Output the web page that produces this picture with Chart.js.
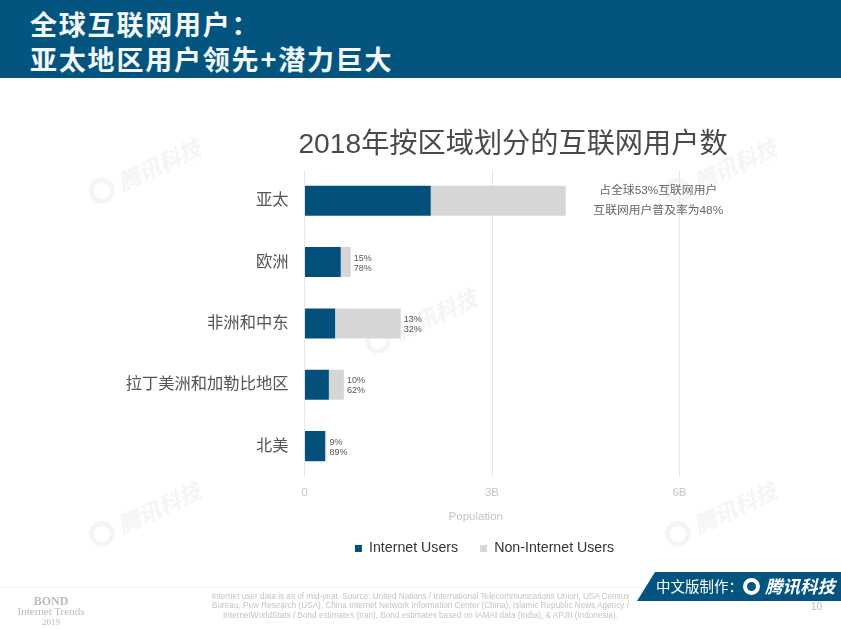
<!DOCTYPE html>
<html>
<head>
<meta charset="utf-8">
<script src="https://cdn.jsdelivr.net/npm/chart.js@4/dist/chart.umd.min.js"></script>
<style>
	html, body { margin: 0; padding: 0; background: #fff; }
	body { width: 841px; height: 629px; overflow: hidden; position: relative; font-family: "Liberation Sans", "Noto Sans CJK SC", sans-serif; }
	canvas { position: absolute; left: 0; top: 0; }
	.abs { position: absolute; white-space: nowrap; }
	#header { left: 0; top: 0; width: 841px; height: 78px; background: #03557f; }
	.head { left: 30px; color: #f4f8fa; font: bold 27px/32px "Noto Sans CJK SC", sans-serif; letter-spacing: 1.8px; }
	.mark { color: #f5f5f5; font: italic bold 22px/30px "Noto Sans CJK SC", sans-serif; transform: rotate(-25deg); }
	.mark i { display: inline-block; width: 16px; height: 16px; border: 5px solid #f5f5f5; border-radius: 50%; margin-right: 6px; vertical-align: -4px; }
	#rule { left: 0; top: 587px; width: 640px; height: 1px; background: #f0f0f0; }
	#source { left: 190px; top: 592px; width: 461px; text-align: center; color: #c4c4c4; font-size: 8.2px; line-height: 9.3px; }
	.bond { left: 0; width: 102px; text-align: center; color: #bcbcbc; font-family: "Liberation Serif", serif; }
	#badge { left: 637px; top: 572px; width: 204px; height: 29px; background: #03557f; clip-path: polygon(18px 0, 100% 0, 100% 100%, 0 100%); }
	#badgeText { left: 656px; top: 575px; color: #fff; font: 14.5px/22px "Noto Sans CJK SC", sans-serif; }
	#badgeLogo { left: 743px; top: 578px; width: 9px; height: 9px; border: 4px solid #fff; border-radius: 50%; }
	#badgeName { left: 765px; top: 574px; color: #fff; font: italic bold 17.5px/24px "Noto Sans CJK SC", sans-serif; }
	#page { left: 811px; top: 601px; color: #bbb; font-size: 10px; }
</style>
</head>
<body>
<div class="abs" id="header"></div>
<div class="abs head" style="top:8px">全球互联网用户：</div>
<div class="abs head" style="top:43px">亚太地区用户领先+潜力巨大</div>

<div class="abs mark" style="left:84px;top:155px"><i></i>腾讯科技</div>
<div class="abs mark" style="left:660px;top:155px"><i></i>腾讯科技</div>
<div class="abs mark" style="left:360px;top:305px"><i></i>腾讯科技</div>
<div class="abs mark" style="left:84px;top:498px"><i></i>腾讯科技</div>
<div class="abs mark" style="left:660px;top:498px"><i></i>腾讯科技</div>

<canvas id="regions-chart" width="841" height="629"></canvas>

<div class="abs" id="rule"></div>
<div class="abs bond" style="top:594px;font-size:12px;font-weight:bold">BOND</div>
<div class="abs bond" style="top:605px;font-size:11px">Internet Trends</div>
<div class="abs bond" style="top:617px;font-size:9px">2019</div>
<div class="abs" id="source">Internet user data is as of mid-year. Source: United Nations / International Telecommunications Union, USA Census<br>Bureau, Pew Research (USA), China Internet Network Information Center (China), Islamic Republic News Agency /<br>InternetWorldStats / Bond estimates (Iran), Bond estimates based on IAMAI data (India), &amp; APJII (Indonesia).</div>
<div class="abs" id="badge"></div>
<div class="abs" id="badgeText">中文版制作：</div>
<div class="abs" id="badgeLogo"></div>
<div class="abs" id="badgeName">腾讯科技</div>
<div class="abs" id="page">10</div>

<script>
const regions = ['亚太', '欧洲', '非洲和中东', '拉丁美洲和加勒比地区', '北美'];
const internetUsers = [2.02, 0.58, 0.49, 0.39, 0.33];
const nonInternetUsers = [2.16, 0.16, 1.05, 0.24, 0.02];
const shareOfGlobal = ['', '15%', '13%', '10%', '9%'];
const penetration = ['', '78%', '32%', '62%', '89%'];
const topNote = ['占全球53%互联网用户', '互联网用户普及率为48%'];
const axisTicks = { 0: '0', 3: '3B', 6: '6B' };

const latin = '"Liberation Sans", "Noto Sans CJK SC", sans-serif';

// title and legend sit over the plot side, not centred on the canvas
const shiftBoxes = {
	id: 'shiftBoxes',
	afterLayout(chart) {
		[[chart.titleBlock, 513, 2], [chart.legend, 484.5, -11]].forEach(([box, centre, dy]) => {
			const dx = centre - (box.left + box.right) / 2;
			box.left += dx;
			box.right += dx;
			box.top += dy;
			box.bottom += dy;
		});
	},
};

const barNotes = {
	id: 'barNotes',
	afterDatasetsDraw(chart) {
		const { ctx, chartArea, scales: { x, y } } = chart;
		ctx.save();
		ctx.textBaseline = 'middle';
		ctx.fillStyle = '#555';
		ctx.font = '9px ' + latin;
		regions.forEach((region, i) => {
			if (!shareOfGlobal[i]) return;
			const left = x.getPixelForValue(internetUsers[i] + nonInternetUsers[i]) + 3;
			const middle = y.getPixelForValue(i);
			ctx.fillText(shareOfGlobal[i], left, middle - 4);
			ctx.fillText(penetration[i], left, middle + 6);
		});
		ctx.textAlign = 'center';
		ctx.font = '11.8px ' + latin;
		ctx.fillStyle = '#666';
		const noteX = x.getPixelForValue(5.66);
		const noteY = y.getPixelForValue(0);
		ctx.fillText(topNote[0], noteX, noteY - 10);
		ctx.fillText(topNote[1], noteX, noteY + 10);
		// the axis name is off centre in the original
		ctx.font = '11.5px ' + latin;
		ctx.fillStyle = '#c4c4c4';
		ctx.fillText('Population', x.getPixelForValue(2.74), chartArea.bottom + 40);
		ctx.restore();
	},
};

new Chart(
	document.getElementById('regions-chart'),
	{
		type: 'bar',
		data: {
			labels: regions,
			datasets: [
				{
					label: 'Internet Users',
					data: internetUsers,
					backgroundColor: '#04507c',
				},
				{
					label: 'Non-Internet Users',
					data: nonInternetUsers,
					backgroundColor: '#d6d6d6',
				},
			]
		},
		options: {
			responsive: false,
			animation: false,
			indexAxis: 'y',
			barPercentage: 0.49,
			categoryPercentage: 1,
			layout: {
				padding: { left: 0, top: 110, right: 161.5, bottom: 52.5 },
			},
			plugins: {
				title: {
					display: true,
					text: '2018年按区域划分的互联网用户数',
					color: '#4a4a4a',
					font: { family: latin, size: 28.2, weight: 'normal' },
					padding: { top: 16, bottom: 10.2 },
				},
				legend: {
					position: 'bottom',
					labels: {
						boxWidth: 7,
						boxHeight: 7,
						padding: 22,
						color: '#333',
						font: { family: latin, size: 14.2 },
					},
				},
				tooltip: { enabled: false },
			},
			scales: {
				x: {
					stacked: true,
					min: 0,
					max: 6,
					afterFit: (scale) => { scale.height = 53.5; },
					grid: { color: '#e6e6e6', drawTicks: false },
					border: { display: false },
					ticks: {
						stepSize: 3,
						padding: 9,
						color: '#c4c4c4',
						font: { family: latin, size: 11.5 },
						callback: (value) => axisTicks[value],
					},
				},
				y: {
					stacked: true,
					afterFit: (scale) => { scale.width = 304.5; },
					grid: { display: false },
					border: { display: false },
					ticks: {
						padding: 8,
						color: '#555',
						font: { family: latin, size: 16.3 },
					},
				},
			}
		},
		plugins: [shiftBoxes, barNotes],
	}
);
</script>
</body>
</html>
